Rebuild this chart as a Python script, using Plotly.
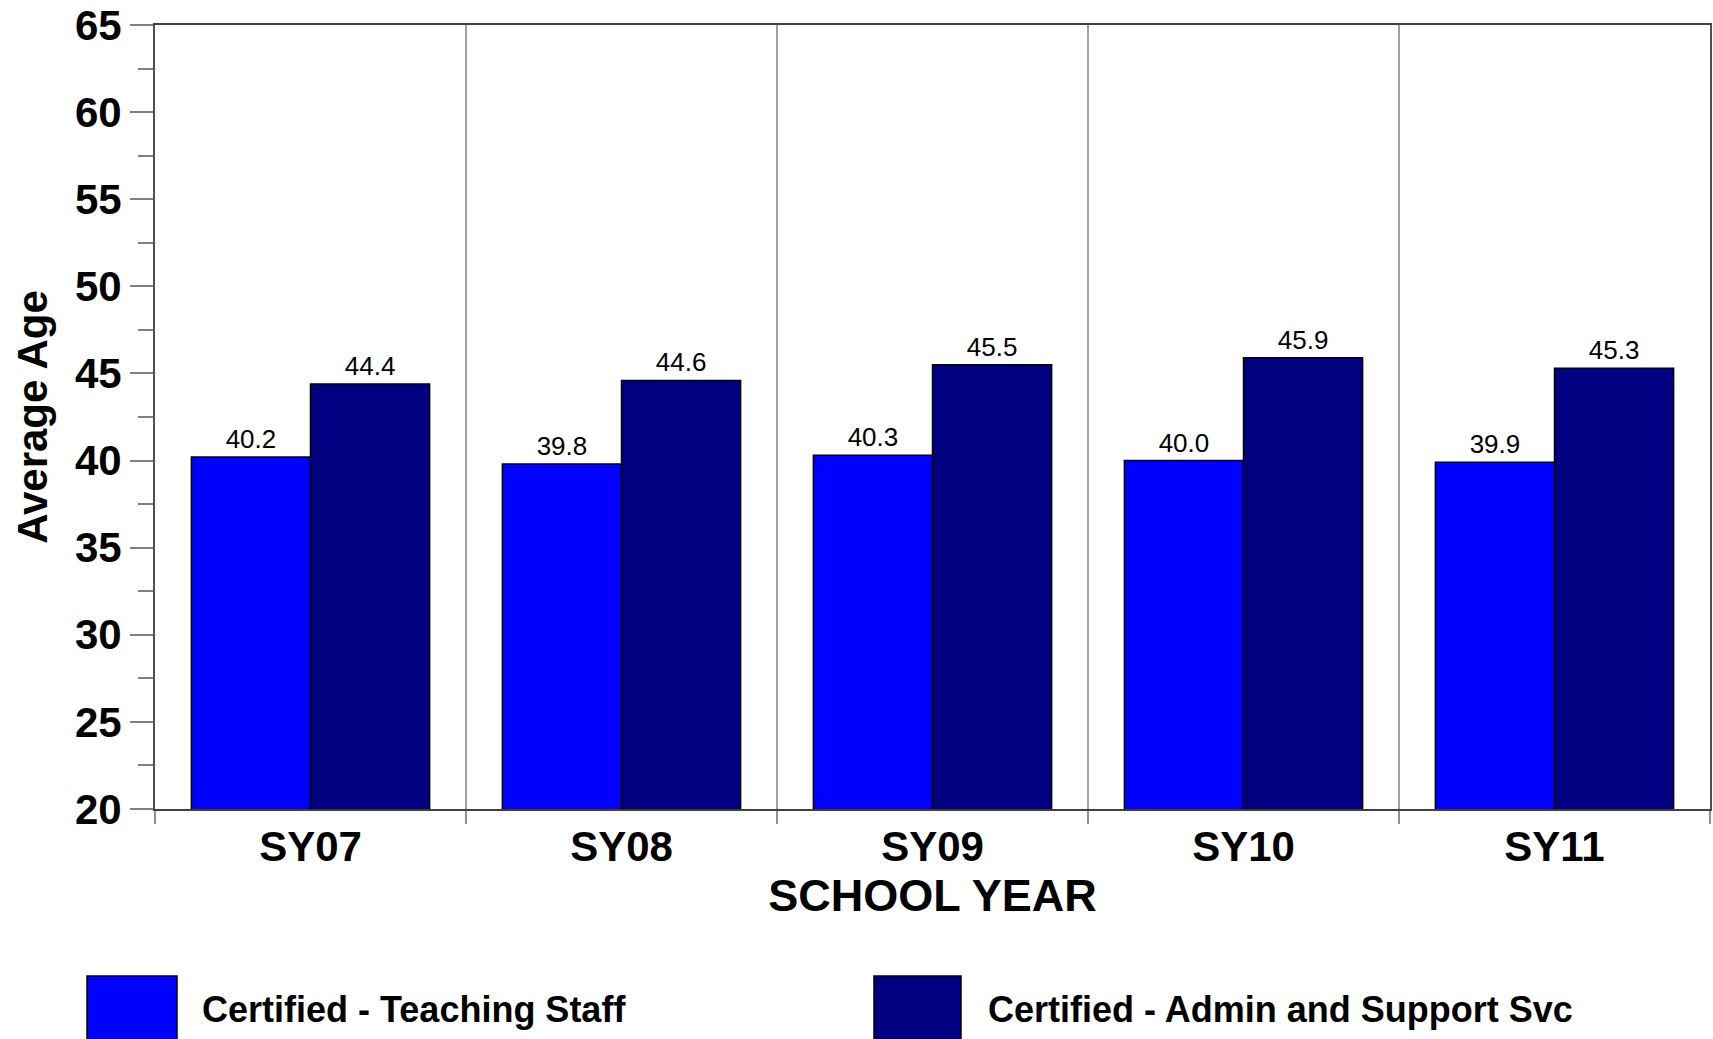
import plotly.graph_objects as go

# ---- data ----
school_years = ["SY07", "SY08", "SY09", "SY10", "SY11"]
teaching_staff = [40.2, 39.8, 40.3, 40.0, 39.9]
admin_support = [44.4, 44.6, 45.5, 45.9, 45.3]
series_names = ["Certified - Teaching Staff", "Certified - Admin and Support Svc"]
series_colors = ["#0000FF", "#000080"]
y_ticks = [20, 25, 30, 35, 40, 45, 50, 55, 60, 65]

FONT = "Arial, Liberation Sans, Helvetica, sans-serif"

fig = go.Figure()
for name, vals, col in zip(series_names, [teaching_staff, admin_support], series_colors):
    fig.add_trace(go.Bar(
        x=school_years, y=vals, name=name,
        marker=dict(color=col, line=dict(color="#000000", width=1.5)),
        texttemplate="%{y:.1f}", textposition="outside",
        textfont=dict(family=FONT, size=26, color="#000000"),
        cliponaxis=False, showlegend=False,
    ))

W, H = 1713, 1039
L, R, T, B = 155, 3, 25, 230
pw, ph = W - L - R, H - T - B

def px(xpage):
    return (xpage - L) / pw

def py(ypage):
    return (H - B - ypage) / ph

# custom legend (large swatches as in the original)
legend_items = [
    (87, 177, 200),
    (874, 961, 986),
]
for (x0, x1, tx), name, col in zip(legend_items, series_names, series_colors):
    fig.add_shape(type="rect", xref="paper", yref="paper",
                  x0=px(x0), x1=px(x1), y0=py(976), y1=py(1050),
                  fillcolor=col, line=dict(color="#000000", width=1.5))
    fig.add_annotation(xref="paper", yref="paper", x=px(tx), y=py(1009),
                       xanchor="left", yanchor="middle", showarrow=False,
                       text="<b>%s</b>" % name,
                       font=dict(family=FONT, size=36, color="#000000"))

fig.update_layout(
    width=W, height=H,
    margin=dict(l=L, r=R, t=T, b=B, autoexpand=False),
    paper_bgcolor="white", plot_bgcolor="white",
    barmode="group", bargap=0.234, bargroupgap=0,
    font=dict(family=FONT, color="#000000"),
    xaxis=dict(
        type="category", tickson="boundaries",
        ticks="outside", ticklen=13, tickcolor="#909090", tickwidth=1.5,
        showgrid=True, gridcolor="#a0a0a0", gridwidth=1.5,
        showline=True, linecolor="#404040", linewidth=2, mirror=True,
        tickfont=dict(family=FONT, size=42, color="#000000", weight="bold"),
        title=dict(text="SCHOOL YEAR", standoff=0,
                   font=dict(family=FONT, size=45, color="#000000", weight="bold")),
        automargin=False,
    ),
    yaxis=dict(
        range=[20, 65], tickvals=y_ticks,
        ticks="outside", ticklen=23, tickcolor="#808080", tickwidth=1.5,
        minor=dict(dtick=2.5, ticks="outside", ticklen=15,
                   tickcolor="#808080", tickwidth=1.5, showgrid=False),
        showgrid=False, zeroline=False,
        showline=True, linecolor="#505050", linewidth=2, mirror=True,
        tickfont=dict(family=FONT, size=42, color="#000000", weight="bold"),
        title=dict(text="Average Age", standoff=14,
                   font=dict(family=FONT, size=42, color="#000000", weight="bold")),
        automargin=False,
    ),
    yaxis2=dict(
        overlaying="y", anchor="x", side="left",
        range=[20, 65], tickvals=y_ticks,
        ticks="inside", ticklen=20, tickcolor="#808080", tickwidth=1.5,
        minor=dict(dtick=2.5, ticks="inside", ticklen=12,
                   tickcolor="#808080", tickwidth=1.5, showgrid=False),
        showticklabels=False, showgrid=False, zeroline=False, showline=False,
    ),
)

fig.write_html("out.html", config={"displayModeBar": False},
               post_script="document.body.style.margin='0';")
